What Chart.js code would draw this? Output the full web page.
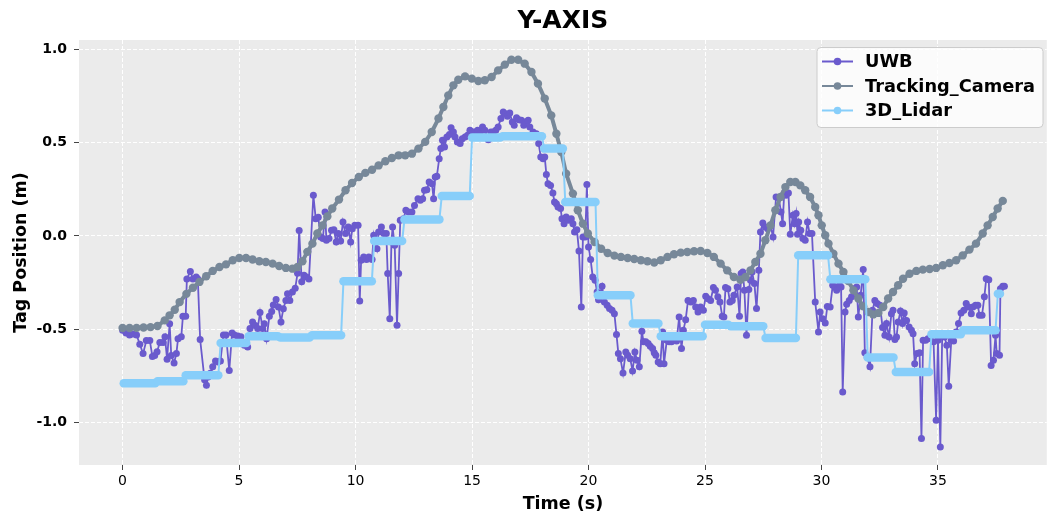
<!DOCTYPE html>
<html>
<head>
<meta charset="utf-8">
<script src="https://cdn.jsdelivr.net/npm/chart.js@4.4.1/dist/chart.umd.min.js"></script>
<style>
html,body{margin:0;padding:0;background:#fff;}
canvas{display:block;}
</style>
</head>
<body>
<canvas id="c" width="1051" height="519"></canvas>
<script>
const chartTitle = 'Y-AXIS';
const xTitle = 'Time (s)';
const yTitle = 'Tag Position (m)';
const seriesNames = ['UWB', 'Tracking_Camera', '3D_Lidar'];
const xTicks = [0, 5, 10, 15, 20, 25, 30, 35];
const yTicks = [-1.0, -0.5, 0.0, 0.5, 1.0];

const uwbT = [0.00,0.15,0.30,0.45,0.60,0.74,0.88,1.02,1.17,1.28,1.38,1.48,1.60,1.74,1.82,1.91,2.02,2.09,2.21,2.31,2.38,2.52,2.59,2.71,2.76,2.91,3.02,3.16,3.23,3.33,3.52,3.60,3.67,3.77,3.87,3.99,4.09,4.20,4.33,4.44,4.58,4.70,4.80,4.94,5.08,5.23,5.37,5.47,5.58,5.70,5.80,5.90,6.01,6.08,6.18,6.30,6.40,6.47,6.59,6.69,6.80,6.90,7.01,7.08,7.18,7.29,7.41,7.51,7.58,7.69,7.79,7.89,8.00,8.19,8.29,8.40,8.50,8.60,8.69,8.75,8.86,8.97,9.07,9.17,9.26,9.36,9.46,9.57,9.69,9.79,9.86,9.97,10.11,10.18,10.24,10.35,10.47,10.57,10.71,10.78,10.92,10.99,11.11,11.21,11.32,11.38,11.47,11.54,11.59,11.68,11.78,11.85,11.92,12.06,12.16,12.28,12.42,12.53,12.68,12.78,12.88,12.96,13.06,13.16,13.28,13.35,13.42,13.49,13.59,13.66,13.73,13.82,13.92,14.03,14.10,14.20,14.27,14.37,14.49,14.58,14.70,14.81,14.91,15.03,15.13,15.24,15.34,15.45,15.55,15.70,15.81,15.91,16.02,16.12,16.24,16.34,16.43,16.52,16.62,16.73,16.81,16.91,17.01,17.12,17.22,17.29,17.41,17.48,17.62,17.76,17.86,17.95,18.05,18.12,18.19,18.26,18.37,18.47,18.54,18.62,18.69,18.80,18.86,18.95,19.04,19.14,19.26,19.33,19.40,19.50,19.59,19.69,19.76,19.86,19.93,20.00,20.09,20.18,20.28,20.37,20.43,20.58,20.68,20.80,20.90,21.01,21.11,21.20,21.28,21.37,21.48,21.60,21.68,21.79,21.89,21.99,22.08,22.18,22.29,22.36,22.46,22.56,22.65,22.75,22.82,22.89,22.99,23.08,23.18,23.24,23.36,23.46,23.56,23.67,23.78,23.89,23.99,24.07,24.17,24.27,24.39,24.50,24.60,24.70,24.81,24.93,25.03,25.13,25.24,25.36,25.45,25.55,25.64,25.74,25.81,25.88,25.98,26.07,26.17,26.24,26.38,26.48,26.55,26.62,26.69,26.78,26.88,26.95,27.02,27.12,27.21,27.31,27.38,27.48,27.59,27.69,27.81,27.92,28.05,28.16,28.26,28.33,28.40,28.48,28.58,28.66,28.77,28.84,28.91,28.97,29.02,29.11,29.20,29.30,29.40,29.49,29.59,29.73,29.87,29.94,30.05,30.16,30.25,30.37,30.48,30.58,30.65,30.77,30.84,30.91,31.01,31.08,31.19,31.29,31.40,31.51,31.58,31.68,31.79,31.86,31.96,32.08,32.19,32.29,32.39,32.51,32.62,32.72,32.79,32.90,33.00,33.07,33.15,33.22,33.29,33.39,33.48,33.55,33.65,33.76,33.86,33.93,34.00,34.10,34.21,34.29,34.36,34.47,34.57,34.71,34.81,34.92,35.00,35.10,35.18,35.28,35.38,35.46,35.57,35.67,35.78,35.88,35.99,36.11,36.21,36.31,36.43,36.50,36.61,36.71,36.78,36.89,36.99,37.07,37.18,37.28,37.38,37.47,37.52,37.64,37.68,37.78,37.85];
const uwbY = [-0.505,-0.52,-0.53,-0.525,-0.53,-0.58,-0.63,-0.56,-0.56,-0.645,-0.64,-0.62,-0.57,-0.57,-0.54,-0.66,-0.47,-0.64,-0.68,-0.63,-0.55,-0.54,-0.43,-0.43,-0.23,-0.19,-0.23,-0.22,-0.23,-0.555,-0.77,-0.80,-0.755,-0.735,-0.70,-0.67,-0.675,-0.67,-0.53,-0.53,-0.72,-0.52,-0.53,-0.535,-0.54,-0.585,-0.595,-0.495,-0.46,-0.48,-0.495,-0.41,-0.495,-0.47,-0.55,-0.43,-0.405,-0.37,-0.34,-0.38,-0.46,-0.39,-0.345,-0.31,-0.345,-0.30,-0.28,-0.20,0.03,-0.245,-0.21,-0.22,-0.23,0.218,0.093,0.10,-0.005,-0.014,0.129,-0.023,-0.014,0.031,0.034,-0.032,0.013,-0.027,0.075,0.013,0.048,-0.032,0.039,0.057,0.057,-0.348,-0.130,-0.112,-0.126,-0.112,-0.126,0.004,-0.068,0.022,0.048,0.013,0.013,-0.201,-0.443,-0.032,0.048,-0.050,-0.478,-0.201,0.084,0.093,0.138,0.129,0.129,0.164,0.200,0.191,0.200,0.245,0.248,0.289,0.280,0.200,0.316,0.320,0.414,0.468,0.513,0.477,0.530,0.544,0.580,0.557,0.530,0.504,0.495,0.521,0.530,0.539,0.566,0.557,0.557,0.566,0.548,0.584,0.566,0.516,0.557,0.557,0.566,0.584,0.629,0.664,0.655,0.641,0.659,0.611,0.593,0.634,0.623,0.620,0.593,0.611,0.620,0.584,0.557,0.548,0.495,0.423,0.414,0.423,0.330,0.280,0.271,0.230,0.182,0.173,0.155,0.147,0.093,0.066,0.102,0.084,0.093,0.066,0.022,0.034,-0.080,-0.380,-0.005,-0.005,0.276,-0.059,-0.126,-0.219,-0.237,-0.300,-0.341,-0.269,-0.353,-0.371,-0.389,-0.398,-0.416,-0.527,-0.630,-0.657,-0.734,-0.621,-0.639,-0.657,-0.723,-0.621,-0.666,-0.700,-0.510,-0.567,-0.567,-0.576,-0.591,-0.603,-0.626,-0.639,-0.675,-0.684,-0.514,-0.684,-0.558,-0.567,-0.567,-0.558,-0.562,-0.434,-0.603,-0.505,-0.448,-0.345,-0.354,-0.345,-0.380,-0.407,-0.380,-0.398,-0.323,-0.336,-0.345,-0.276,-0.291,-0.326,-0.353,-0.430,-0.434,-0.276,-0.282,-0.353,-0.345,-0.317,-0.273,-0.430,-0.201,-0.193,-0.291,-0.532,-0.287,-0.237,-0.193,-0.255,-0.389,-0.184,0.022,0.070,0.048,0.039,0.057,-0.005,0.209,0.206,0.129,0.066,0.230,0.218,0.230,0.009,0.111,0.066,0.120,0.009,0.075,0.031,-0.014,-0.023,0.075,0.013,0.013,-0.353,-0.514,-0.407,-0.443,-0.466,-0.377,-0.380,-0.264,-0.273,-0.291,-0.264,-0.273,-0.836,-0.407,-0.366,-0.345,-0.326,-0.282,-0.273,-0.434,-0.317,-0.180,-0.626,-0.648,-0.700,-0.398,-0.345,-0.362,-0.371,-0.490,-0.532,-0.469,-0.541,-0.416,-0.398,-0.555,-0.541,-0.461,-0.402,-0.469,-0.412,-0.452,-0.487,-0.505,-0.523,-0.684,-0.630,-0.626,-1.085,-0.558,-0.558,-0.550,-0.532,-0.567,-0.987,-0.558,-1.130,-0.537,-0.541,-0.585,-0.805,-0.558,-0.562,-0.514,-0.469,-0.412,-0.398,-0.362,-0.380,-0.416,-0.380,-0.371,-0.371,-0.425,-0.425,-0.326,-0.229,-0.234,-0.693,-0.666,-0.532,-0.630,-0.639,-0.282,-0.269,-0.269];

const camT = [0.00,0.30,0.60,0.90,1.20,1.50,1.81,2.02,2.24,2.45,2.74,3.02,3.30,3.59,3.87,4.16,4.44,4.73,5.01,5.30,5.58,5.87,6.15,6.44,6.72,7.01,7.29,7.51,7.72,7.93,8.15,8.36,8.58,8.79,9.00,9.29,9.57,9.85,10.14,10.42,10.71,10.99,11.28,11.56,11.85,12.13,12.42,12.70,12.99,13.27,13.56,13.77,13.98,14.20,14.41,14.70,14.99,15.27,15.55,15.84,16.12,16.41,16.69,16.98,17.26,17.55,17.83,18.12,18.40,18.62,18.83,19.04,19.33,19.54,19.76,19.97,20.26,20.54,20.82,21.11,21.39,21.68,21.96,22.25,22.53,22.82,23.10,23.39,23.67,23.96,24.24,24.53,24.81,25.10,25.38,25.67,25.95,26.24,26.52,26.74,26.95,27.16,27.38,27.59,27.81,28.02,28.24,28.45,28.66,28.88,29.09,29.30,29.51,29.73,29.87,30.01,30.16,30.30,30.51,30.73,30.94,31.15,31.37,31.58,31.79,32.01,32.22,32.44,32.65,32.86,33.07,33.29,33.50,33.78,34.07,34.35,34.64,34.92,35.21,35.49,35.78,36.06,36.35,36.63,36.92,37.13,37.35,37.56,37.78];
const camY = [-0.493,-0.493,-0.492,-0.490,-0.488,-0.482,-0.452,-0.425,-0.395,-0.354,-0.310,-0.277,-0.246,-0.216,-0.187,-0.166,-0.152,-0.130,-0.118,-0.118,-0.126,-0.135,-0.139,-0.148,-0.161,-0.171,-0.175,-0.166,-0.135,-0.085,-0.041,0.013,0.057,0.105,0.147,0.195,0.245,0.284,0.316,0.338,0.355,0.378,0.400,0.418,0.432,0.432,0.441,0.468,0.504,0.557,0.629,0.691,0.753,0.807,0.837,0.855,0.843,0.830,0.834,0.852,0.887,0.918,0.944,0.944,0.923,0.878,0.816,0.736,0.646,0.548,0.450,0.334,0.227,0.138,0.066,0.013,-0.032,-0.068,-0.091,-0.105,-0.112,-0.118,-0.123,-0.130,-0.135,-0.142,-0.130,-0.112,-0.098,-0.089,-0.086,-0.082,-0.080,-0.091,-0.112,-0.148,-0.184,-0.220,-0.234,-0.220,-0.184,-0.139,-0.095,-0.023,0.057,0.138,0.209,0.262,0.289,0.289,0.271,0.245,0.209,0.155,0.111,0.057,0.004,-0.041,-0.095,-0.148,-0.193,-0.241,-0.291,-0.335,-0.377,-0.407,-0.420,-0.412,-0.380,-0.335,-0.300,-0.264,-0.229,-0.202,-0.187,-0.180,-0.177,-0.171,-0.157,-0.145,-0.130,-0.104,-0.073,-0.041,0.013,0.057,0.102,0.147,0.188];

const lidarT = [0.05,1.40, 1.50,2.61, 2.71,4.11, 4.21,5.31, 5.41,6.67, 6.77,8.03, 8.13,9.38, 9.48,10.70, 10.80,12.00, 12.10,13.60, 13.70,14.90, 15.00,16.21, 16.31,18.00, 18.10,18.90, 19.00,20.30, 20.40,21.80, 21.90,23.00, 23.10,24.90, 25.00,26.00, 26.10,27.50, 27.60,28.90, 29.00,30.28, 30.38,31.88, 31.98,33.09, 33.19,34.62, 34.72,35.98, 36.08,37.47, 37.57,37.66];
const lidarY = [-0.789,-0.789, -0.778,-0.778, -0.746,-0.746, -0.573,-0.573, -0.537,-0.537, -0.544,-0.544, -0.532,-0.532, -0.243,-0.243, -0.027,-0.027, 0.089,0.089, 0.214,0.214, 0.527,0.527, 0.534,0.534, 0.468,0.468, 0.182,0.182, -0.318,-0.318, -0.469,-0.469, -0.537,-0.537, -0.475,-0.475, -0.484,-0.484, -0.546,-0.546, -0.103,-0.103, -0.232,-0.232, -0.651,-0.651, -0.728,-0.728, -0.526,-0.526, -0.505,-0.505, -0.309,-0.309];

const colors = ['#6a5acd', '#778899', '#87cefa'];
const FONT = "'DejaVu Sans', sans-serif";

const pts = (t, y) => t.map((v, i) => ({x: v, y: y[i]}));

const bgPlugin = {
  id: 'bg',
  beforeDraw(chart) {
    const {ctx, chartArea: a} = chart;
    ctx.save();
    ctx.fillStyle = '#ebebeb';
    ctx.fillRect(a.left, a.top, a.right - a.left, a.bottom - a.top);
    ctx.restore();
  }
};

const legendPlugin = {
  id: 'boxLegend',
  afterDraw(chart) {
    const ctx = chart.ctx;
    const x0 = 817, y0 = 47.5, w = 226, h = 80;
    ctx.save();
    ctx.beginPath();
    ctx.roundRect(x0, y0, w, h, 4);
    ctx.fillStyle = 'rgba(255,255,255,0.8)';
    ctx.fill();
    ctx.strokeStyle = '#cccccc';
    ctx.lineWidth = 1;
    ctx.stroke();
    const rows = [61.5, 86, 110.5];
    chart.data.datasets.forEach((ds, i) => {
      const y = rows[i];
      ctx.strokeStyle = colors[i];
      ctx.lineWidth = 2;
      ctx.beginPath();
      ctx.moveTo(822, y);
      ctx.lineTo(853, y);
      ctx.stroke();
      ctx.fillStyle = colors[i];
      ctx.beginPath();
      ctx.arc(837.5, y, 3.8, 0, Math.PI * 2);
      ctx.fill();
      ctx.fillStyle = '#000';
      ctx.font = "bold 17.8px " + FONT;
      ctx.textBaseline = 'middle';
      ctx.textAlign = 'left';
      ctx.fillText(ds.label, 865, y + 1);
    });
    ctx.restore();
  }
};

new Chart(document.getElementById('c'), {
  type: 'line',
  data: {
    datasets: [
      {
        label: seriesNames[0],
        data: pts(uwbT, uwbY),
        borderColor: colors[0], backgroundColor: colors[0],
        borderWidth: 1.8, pointRadius: 3.5, pointBorderWidth: 0,
        pointBackgroundColor: colors[0], tension: 0, order: 3
      },
      {
        label: seriesNames[1],
        data: pts(camT, camY),
        borderColor: colors[1], backgroundColor: colors[1],
        borderWidth: 4, pointRadius: 4.2, pointBorderWidth: 0,
        pointBackgroundColor: colors[1], tension: 0, order: 2,
        borderCapStyle: 'round', borderJoinStyle: 'round'
      },
      {
        label: seriesNames[2],
        data: pts(lidarT, lidarY),
        borderColor: colors[2], backgroundColor: colors[2],
        borderWidth: 2, pointRadius: 0, tension: 0, order: 1,
        borderCapStyle: 'round', borderJoinStyle: 'round',
        segment: {
          borderWidth: c => (c.p0.parsed.y === c.p1.parsed.y ? 8.5 : 2)
        }
      }
    ]
  },
  options: {
    responsive: false,
    devicePixelRatio: 1,
    animation: false,
    layout: {padding: {left: 0, right: 0, top: 0, bottom: 0}},
    plugins: {
      legend: {display: false},
      tooltip: {enabled: false},
      title: {
        display: true, text: chartTitle, color: '#000', fullSize: false,
        font: {family: FONT, size: 25, weight: 'bold'},
        padding: {top: 6, bottom: 4}
      }
    },
    scales: {
      x: {
        type: 'linear', position: 'bottom', min: -1.87, max: 39.67,
        afterBuildTicks: s => { s.ticks = xTicks.map(v => ({value: v})); },
        afterFit: s => { s.height = 54; },
        ticks: {color: '#000', font: {family: FONT, size: 14}, padding: 3, callback: v => String(v), maxRotation: 0},
        grid: {color: '#ffffff', lineWidth: 1, borderDash: [4, 2], tickColor: '#444', tickLength: 5, tickWidth: 1, tickBorderDash: []},
        border: {display: false, dash: [4, 2]},
        title: {display: true, text: xTitle, color: '#000', font: {family: FONT, size: 17.5, weight: 'bold'}, padding: {top: 0, bottom: 4}}
      },
      y: {
        type: 'linear', min: -1.2266, max: 1.0498,
        afterBuildTicks: s => { s.ticks = yTicks.map(v => ({value: v})); },
        afterFit: s => { s.width = 79; },
        ticks: {color: '#000', font: {family: FONT, size: 14, weight: 'bold'}, padding: 7, callback: v => v.toFixed(1)},
        grid: {color: '#ffffff', lineWidth: 1, borderDash: [4, 2], tickColor: '#444', tickLength: 5, tickWidth: 1, tickBorderDash: []},
        border: {display: false, dash: [4, 2]},
        title: {display: true, text: yTitle, color: '#000', font: {family: FONT, size: 17.5, weight: 'bold'}, padding: {top: 11, bottom: 0}}
      }
    }
  },
  plugins: [bgPlugin, legendPlugin]
});
</script>
</body>
</html>
